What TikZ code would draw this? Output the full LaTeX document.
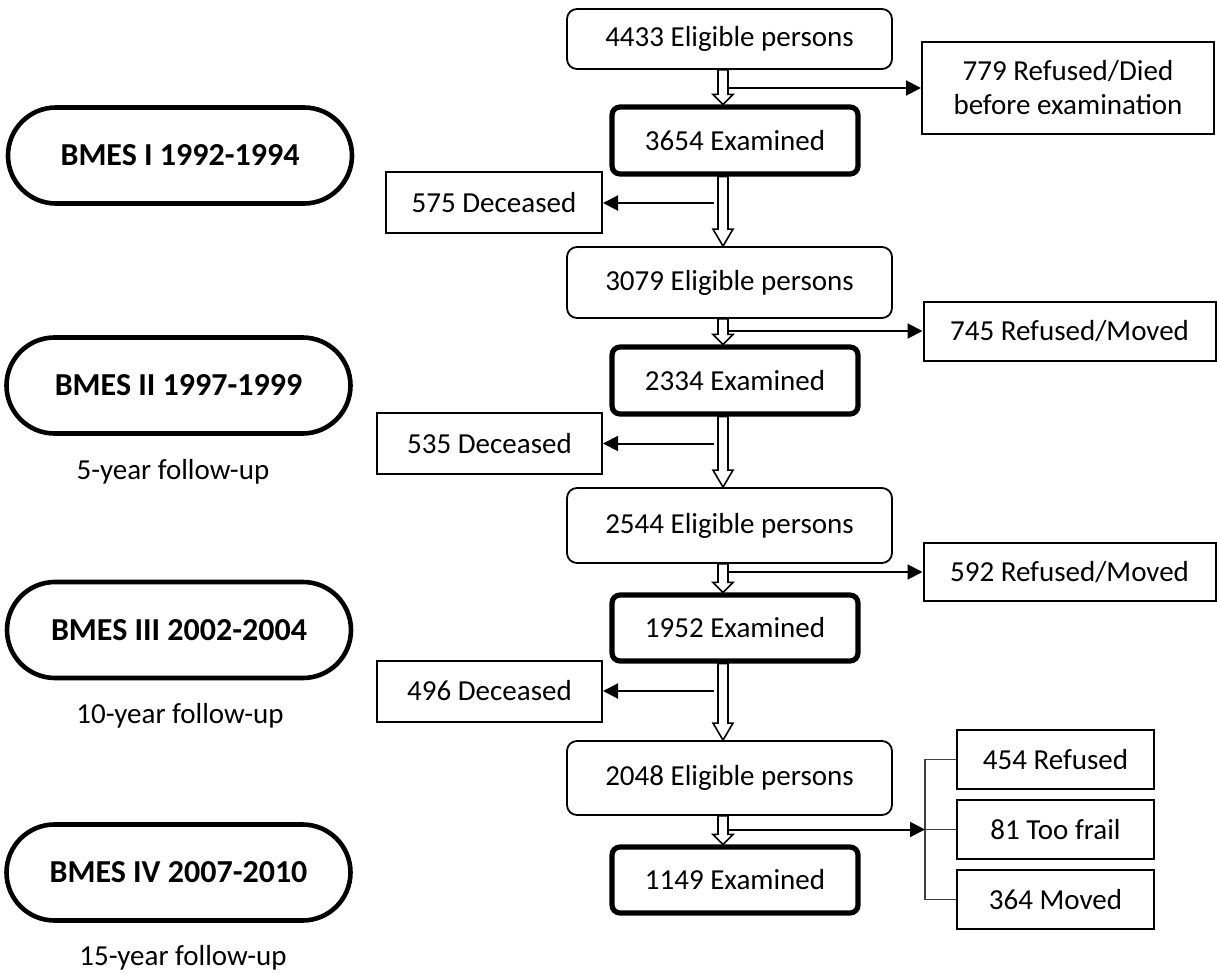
\documentclass[tikz,border=0pt]{standalone}
\usepackage{fontspec}
\setmainfont{Carlito}
\usetikzlibrary{arrows.meta,calc}

\tikzset{
  base/.style={draw,inner sep=0pt,align=center,font=\fontsize{14.5pt}{17pt}\selectfont},
  elig/.style={base,line width=0.9pt,rounded corners=5pt,minimum width=162.5pt},
  exam/.style={base,line width=2.6pt,rounded corners=4pt,minimum width=123pt,minimum height=33.5pt},
  side/.style={base,line width=1pt,minimum width=146pt},
  dec/.style={base,line width=1pt,minimum height=30.5pt},
  small/.style={base,line width=1pt,minimum width=98.5pt,minimum height=29.5pt},
  phase/.style={base,line width=2.3pt,rounded corners=24pt,minimum width=172pt,minimum height=48pt,
    font=\fontsize{16pt}{19pt}\selectfont\bfseries},
  plain/.style={inner sep=0pt,font=\fontsize{14.5pt}{17pt}\selectfont},
  sidearrow/.style={line width=1pt,-{Triangle[length=7.5pt,width=7.5pt]}},
  hollowline/.style={line width=0.8pt,fill=white,line join=miter},
  bracketline/.style={line width=0.6pt,black!75}
}

% open block arrow down the main column: [head length] from, to
\newcommand{\blockarrow}[3][10]{%
  \draw[hollowline] ($(#2.south -| axis)+(-5,0)$) -- ($(#3.north -| axis)+(-5,-#1)$)
    -- ++(-5,0) -- (#3.north -| axis) -- ++(10,-#1) -- ++(-5,0)
    -- ($(#2.south -| axis)+(5,0)$) -- cycle;}

\begin{document}
\begin{tikzpicture}[x=0.5pt,y=-0.5pt]
  \useasboundingbox (0,0) rectangle (1217,974);
  \coordinate (axis) at (723,0);
  \coordinate (brk) at (925,0);

  % study phases
  \node[phase] (s1) at (180,155.5) {BMES I 1992-1994};
  \node[phase] (s2) at (178.5,385.5) {BMES II 1997-1999};
  \node[phase] (s3) at (179,630) {BMES III 2002-2004};
  \node[phase] (s4) at (178.5,872.5) {BMES IV 2007-2010};
  \node[plain] (f2) at (173,472) {5-year follow-up};
  \node[plain] (f3) at (180,716) {10-year follow-up};
  \node[plain] (f4) at (183,958) {15-year follow-up};

  % main column
  \node[elig,minimum height=30pt] (e1) at (729.5,39) {4433 Eligible persons};
  \node[exam] (x1) at (735,140.5) {3654 Examined};
  \node[elig,minimum height=35.5pt] (e2) at (729.5,282.5) {3079 Eligible persons};
  \node[exam] (x2) at (735,380.5) {2334 Examined};
  \node[elig,minimum height=37.5pt] (e3) at (729.5,525.5) {2544 Eligible persons};
  \node[exam,minimum height=33pt] (x3) at (735,628) {1952 Examined};
  \node[elig,minimum height=37pt] (e4) at (729.5,778) {2048 Eligible persons};
  \node[exam,minimum height=33pt] (x4) at (735,880) {1149 Examined};

  % losses
  \node[side,minimum height=46pt] (r1) at (1068,88) {779 Refused/Died\\before examination};
  \node[side,minimum height=29.5pt] (r2) at (1069.5,331) {745 Refused/Moved};
  \node[side,minimum height=29pt] (r3) at (1069.5,572) {592 Refused/Moved};
  \node[dec,minimum width=108pt] (d1) at (494,203) {575 Deceased};
  \node[dec,minimum width=112.5pt] (d2) at (489.5,443.5) {535 Deceased};
  \node[dec,minimum width=112.5pt] (d3) at (489.5,691) {496 Deceased};
  \node[small] (b1) at (1055.5,759.5) {454 Refused};
  \node[small] (b2) at (1055.5,829.5) {81 Too frail};
  \node[small] (b3) at (1055.5,899.5) {364 Moved};

  \blockarrow{e1}{x1}
  \blockarrow[17]{x1}{e2}
  \blockarrow{e2}{x2}
  \blockarrow[17]{x2}{e3}
  \blockarrow{e3}{x3}
  \blockarrow[17]{x3}{e4}
  \blockarrow{e4}{x4}

  \draw[sidearrow] ($(r1.west -| axis)+(5,0)$) -- (r1.west);
  \draw[sidearrow] ($(r2.west -| axis)+(5,0)$) -- (r2.west);
  \draw[sidearrow] ($(r3.west -| axis)+(5,0)$) -- (r3.west);
  \draw[sidearrow] ($(d1.east -| axis)+(-9,0)$) -- (d1.east);
  \draw[sidearrow] ($(d2.east -| axis)+(-9,0)$) -- (d2.east);
  \draw[sidearrow] ($(d3.east -| axis)+(-9,0)$) -- (d3.east);

  \draw[bracketline] (b1.west) -- (b1.west -| brk) -- (b3.west -| brk) -- (b3.west);
  \draw[bracketline] (b2.west -| brk) -- (b2.west);
  \draw[sidearrow] ($(b2.west -| axis)+(5,0)$) -- (b2.west -| brk);
\end{tikzpicture}
\end{document}
